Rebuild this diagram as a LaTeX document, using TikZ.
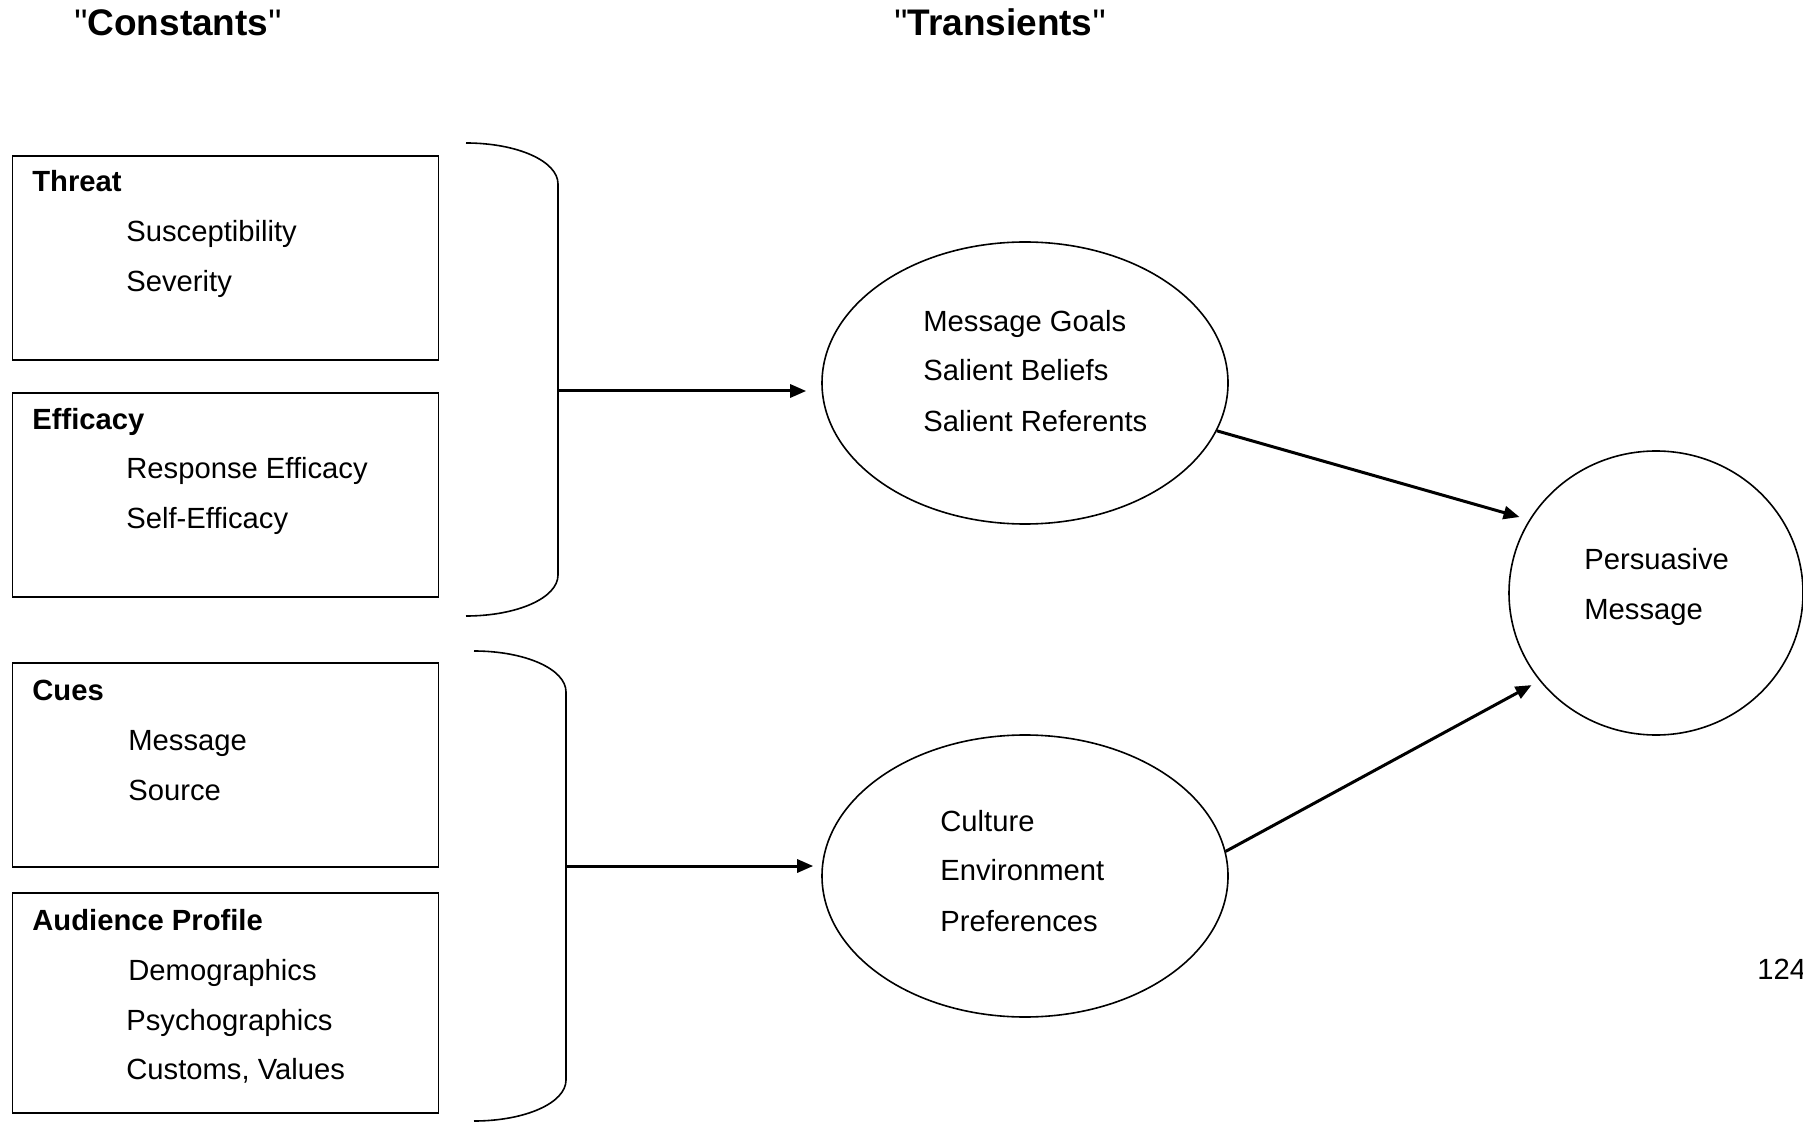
\documentclass[tikz,border=0pt]{standalone}
\usepackage{fontspec}
\setmainfont{Liberation Sans}
\usetikzlibrary{shapes.geometric,arrows.meta}
\begin{document}
\begin{tikzpicture}[x=0.5pt,y=-0.5pt,
  every node/.style={font=\fontsize{14.6pt}{17pt}\selectfont},
  lbl/.style={anchor=base west, inner sep=0pt},
  ttl/.style={anchor=base, inner sep=0pt, font=\fontsize{18.5pt}{22pt}\selectfont},
  box/.style={draw, line width=0.9pt, minimum width=213pt, inner sep=0pt, anchor=north west},
  ell/.style={draw, ellipse, line width=0.8pt, inner sep=0pt},
  brace/.style={line width=0.8pt},
  arr/.style={line width=1.5pt, -{Triangle[length=8pt,width=6.5pt]}}]
\useasboundingbox (0,0) rectangle (1803,1122);

% titles
\node[ttl] (tc) at (178,36) {\textquotedbl\textbf{Constants}\textquotedbl};
\node[ttl] (tt) at (1000,36) {\textquotedbl\textbf{Transients}\textquotedbl};

% boxes
\node[box, minimum height=102pt] (threat) at (11.5,155) {};
\node[box, minimum height=102pt] (efficacy) at (11.5,392) {};
\node[box, minimum height=102pt] (cues) at (11.5,662) {};
\node[box, minimum height=110pt] (aud) at (11.5,892) {};

% box texts
\node[lbl] (t1) at (32,192) {\textbf{Threat}};
\node[lbl] (t2) at (126,242) {Susceptibility};
\node[lbl] (t3) at (126,292) {Severity};
\node[lbl] (f1) at (32,430) {\textbf{Efficacy}};
\node[lbl] (f2) at (126,479) {Response Efficacy};
\node[lbl] (f3) at (126,529) {Self-Efficacy};
\node[lbl] (c1) at (32,700) {\textbf{Cues}};
\node[lbl] (c2) at (128,750) {Message};
\node[lbl] (c3) at (128,800) {Source};
\node[lbl] (a1) at (32,930) {\textbf{Audience Profile}};
\node[lbl] (a2) at (128,980) {Demographics};
\node[lbl] (a3) at (126,1030) {Psychographics};
\node[lbl] (a4) at (126,1079) {Customs, Values};

% braces
\draw[brace] (466,143) .. controls (517,143) and (558,161) .. (558,184) -- (558,575) .. controls (558,598) and (517,616) .. (466,616);
\draw[brace] (474,651) .. controls (525,651) and (566,669) .. (566,692) -- (566,1080) .. controls (566,1103) and (525,1121) .. (474,1121);
\coordinate (b1) at (558,391);
\coordinate (b2) at (566,866);

% ellipses
\node[ell, minimum width=203pt, minimum height=141pt] (e1) at (1025,383) {};
\node[ell, minimum width=203pt, minimum height=141pt] (e2) at (1025,876) {};
\node[ell, minimum width=147pt, minimum height=142pt] (pm) at (1656,593) {};

\node[lbl] (g1) at (923,332) {Message Goals};
\node[lbl] (g2) at (923,381) {Salient Beliefs};
\node[lbl] (g3) at (923,432) {Salient Referents};
\node[lbl] (h1) at (940,831) {Culture};
\node[lbl] (h2) at (940,880) {Environment};
\node[lbl] (h3) at (940,931) {Preferences};
\node[lbl] (p1) at (1584,569) {Persuasive};
\node[lbl] (p2) at (1584,619) {Message};

\node[lbl] (pg) at (1757,979) {124};

% arrows
\draw[arr, shorten >=7.5pt] (b1) -- (b1 -| e1.west);
\draw[arr, shorten >=4pt] (b2) -- (b2 -| e2.west);
\draw[arr, shorten >=5pt] (e1.-14) -- (pm.150.5);
\draw[arr, shorten >=4.5pt] (e2.7.6) -- (pm.217);
\end{tikzpicture}
\end{document}
